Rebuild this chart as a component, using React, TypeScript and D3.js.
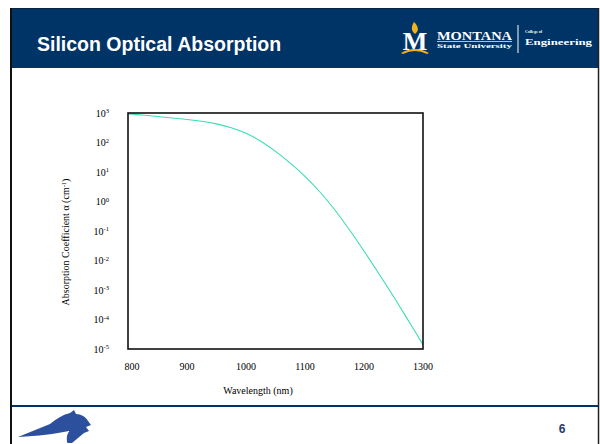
import React from "react";
import * as d3 from "d3";

// wavelength (nm) and absorption coefficient (cm^-1)
const wavelengths = [800, 825, 850, 875, 900, 925, 950, 975, 1000, 1025, 1050, 1075, 1100, 1125, 1150, 1175, 1200, 1225, 1250, 1275, 1300];
const alpha = [933, 851, 759, 676, 603, 525, 427, 316, 204, 110, 50, 20, 7.1, 2.14, 0.537, 0.112, 0.0209, 3.63e-3, 6.03e-4, 9.3e-5, 1.41e-5];

const xTicks = [800, 900, 1000, 1100, 1200, 1300];
const yExponents = [3, 2, 1, 0, -1, -2, -3, -4, -5];

const NAVY = "#003366";

const App: React.FC = () => {
  const plot = { left: 128, right: 423, top: 113, bottom: 349 };

  const x = d3.scaleLinear().domain([800, 1300]).range([plot.left, plot.right]);
  const y = d3.scaleLog().domain([1e-5, 1e3]).range([plot.bottom, plot.top]);

  const line = d3
    .line<number>()
    .x((_, i) => x(wavelengths[i]))
    .y((d) => y(d))
    .curve(d3.curveCatmullRom);

  const serif = "'Liberation Serif', 'Times New Roman', serif";
  const sans = "'Liberation Sans', Arial, sans-serif";

  return (
    <svg
      width={600}
      height={444}
      style={{ position: "absolute", left: 0, top: 0, background: "#fff" }}
    >
      {/* slide frame */}
      <rect x={0} y={0} width={600} height={444} fill="#fff" />
      <rect x={12} y={8} width={586} height={60} fill={NAVY} />
      <line x1={11} y1={8} x2={11} y2={444} stroke="#111" strokeWidth={2} />
      <line x1={598.5} y1={8} x2={598.5} y2={444} stroke="#222" strokeWidth={1.5} />
      <line x1={12} y1={8.5} x2={598} y2={8.5} stroke="#0a2340" strokeWidth={1} />

      <text x={37} y={51} fill="#fff" fontFamily={sans} fontWeight="bold" fontSize={19.5}>
        Silicon Optical Absorption
      </text>

      {/* university logo (approximation) */}
      <g>
        <path d="M414,22 C411,27 411,31 415,34 C419,31 419,27 414,22 Z" fill="#f2b31c" />
        <text x={415} y={50} textAnchor="middle" fill="#fff" fontFamily={serif} fontWeight="bold" fontSize={26}>
          M
        </text>
        <path d="M401,53 Q415,45 429,53 L427,54 Q415,48 403,54 Z" fill="#f2b31c" />
        <text x={437} y={40} fill="#fff" fontFamily={serif} fontWeight="bold" fontSize={12} textLength={75} lengthAdjust="spacingAndGlyphs">
          MONTANA
        </text>
        <line x1={437} y1={41.5} x2={512} y2={41.5} stroke="#fff" strokeWidth={0.7} />
        <text x={437} y={48} fill="#fff" fontFamily={serif} fontWeight="bold" fontSize={6} textLength={75} lengthAdjust="spacingAndGlyphs">
          State University
        </text>
        <line x1={518} y1={25} x2={518} y2={53} stroke="#fff" strokeWidth={1} />
        <text x={525} y={33} fill="#fff" fontFamily={serif} fontWeight="bold" fontSize={4.5} textLength={17} lengthAdjust="spacingAndGlyphs">
          College of
        </text>
        <text x={525} y={45} fill="#fff" fontFamily={serif} fontWeight="bold" fontSize={8} textLength={67} lengthAdjust="spacingAndGlyphs">
          Engineering
        </text>
      </g>

      {/* chart */}
      <path d={line(alpha) ?? ""} fill="none" stroke="#3cdcb4" strokeWidth={1.1} />
      <rect
        x={plot.left}
        y={plot.top}
        width={plot.right - plot.left}
        height={plot.bottom - plot.top}
        fill="none"
        stroke="#111"
        strokeWidth={1.6}
      />

      {yExponents.map((e) => (
        <text key={e} x={plot.left - 19} y={y(Math.pow(10, e)) + 3.5} textAnchor="end" fontFamily={serif} fontSize={10} fill="#000">
          10
          <tspan dy={-3.5} fontSize={6.5}>
            {e}
          </tspan>
        </text>
      ))}

      {xTicks.map((t) => (
        <text key={t} x={x(t) + (t === 800 ? 4 : 0)} y={370} textAnchor="middle" fontFamily={serif} fontSize={10} fill="#000">
          {t}
        </text>
      ))}

      <text x={258} y={394} textAnchor="middle" fontFamily={serif} fontSize={10} fill="#000">
        Wavelength (nm)
      </text>
      <text
        transform={`translate(69,242) rotate(-90)`}
        textAnchor="middle"
        fontFamily={serif}
        fontSize={10}
        fill="#000"
      >
        Absorption Coefficient α (cm
        <tspan dy={-3.5} fontSize={6.5}>-1</tspan>
        <tspan dy={3.5}>)</tspan>
      </text>

      {/* footer */}
      <line x1={12} y1={406} x2={598} y2={406} stroke={NAVY} strokeWidth={2} />
      <path
        d="M18,437 L50,424 C56,419 62,415 70,413 L74,410 L76,414 C81,414 86,417 88,421 L91,425 L86,427 L89,431 L84,433 C80,436 76,440 72,443 L67,443 C66,438 67,434 69,431 C55,434 38,436 18,437 Z"
        fill="#2c4f9e"
      />
      <path d="M69,431 C66,434 65,439 67,443" fill="none" stroke="#fff" strokeWidth={1} />
      <text x={562} y={433} textAnchor="middle" fontFamily={sans} fontWeight="bold" fontSize={12} fill="#1f3a6a">
        6
      </text>
    </svg>
  );
};

export default App;
